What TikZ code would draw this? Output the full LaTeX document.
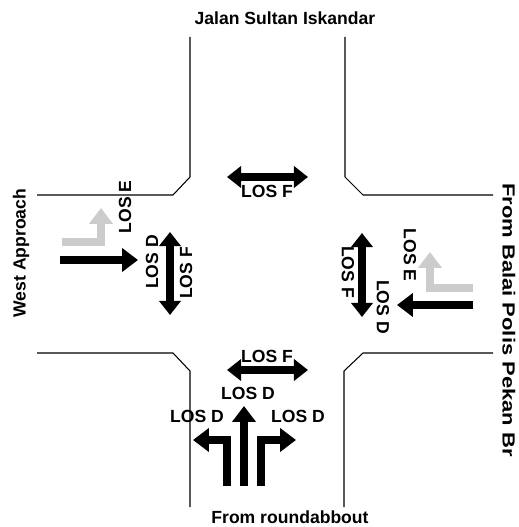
\documentclass[tikz,border=0pt]{standalone}
\usepackage{fontspec}
\setmainfont{Liberation Sans}
\usetikzlibrary{arrows.meta}

\tikzset{
  road/.style={draw=black, line width=0.6pt},
  flow/.style={line width=4pt, -{Triangle[width=13pt,length=9pt]}},
  twoway/.style={line width=4pt, {Triangle[width=12pt,length=8pt]}-{Triangle[width=12pt,length=8pt]}},
  faint/.style={flow, draw=gray!40},
  los/.style={font=\bfseries\fontsize{10}{12}\selectfont, inner sep=0pt},
  roadname/.style={font=\bfseries\fontsize{10}{12}\selectfont, inner sep=0pt}
}

\begin{document}
\begin{tikzpicture}[x=0.02cm, y=-0.02cm]
   \useasboundingbox (0,0) rectangle (518,527);

   % kerb lines
   \draw[road] (190,37) -- (190,177) -- (173,195) -- (37,195);
   \draw[road] (345,37) -- (345,177) -- (363,195) -- (493,195);
   \draw[road] (37,353) -- (173,353) -- (190,371) -- (190,507);
   \draw[road] (493,353) -- (363,353) -- (344,371) -- (344,507);

   % road names
   \node[roadname] (north) at (285,18) {Jalan Sultan Iskandar};
   \node[roadname, rotate=90] (west) at (21,253) {West Approach};
   \node[roadname, rotate=-90, xscale=1.25] (east) at (509,320) {From Balai Polis Pekan Br};
   \node[roadname] (south) at (290,517) {From roundabbout};

   % pedestrian crossings
   \draw[twoway] (227,177) -- (308,177);
   \draw[twoway] (227,370) -- (308,370);
   \draw[twoway] (170,232) -- (170,315);
   \draw[twoway] (362,233) -- (362,317);
   \node[los] (cn) at (267,191) {LOS F};
   \node[los] (cs) at (267,356) {LOS F};
   \node[los, rotate=90] (cwa) at (152,262) {LOS D};
   \node[los, rotate=90] (cwb) at (186,273) {LOS F};
   \node[los, rotate=-90] (cea) at (348,272) {LOS F};

   % west approach
   \draw[flow] (60,260) -- (138,260);
   \draw[faint] (62,242) -- (101,242) -- (101,208);
   \node[los, rotate=90] (wl) at (125,207) {LOS E};

   % east approach
   \draw[flow] (473,305) -- (397,305);
   \draw[faint] (473,288) -- (430,288) -- (430,252);
   \node[los, rotate=-90] (et) at (383,307) {LOS D};
   \node[los, rotate=-90] (el) at (410,255) {LOS E};

   % south approach
   \draw[flow] (227,486) -- (227,440) -- (193,440);
   \draw[flow] (244,486) -- (244,406);
   \draw[flow] (261,486) -- (261,440) -- (296,440);
   \node[los] (sl) at (197,416) {LOS D};
   \node[los] (st) at (248,393) {LOS D};
   \node[los] (sr) at (298,416) {LOS D};
\end{tikzpicture}
\end{document}
